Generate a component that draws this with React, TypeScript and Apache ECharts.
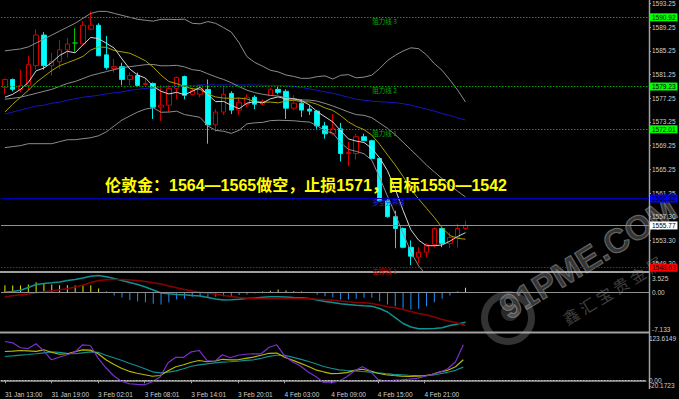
import React, { useEffect, useRef } from 'react';
import * as echarts from 'echarts';

const CATEGORIES = [
  '31 Jan 13:00','31 Jan 14:00','31 Jan 15:00','31 Jan 16:00','31 Jan 17:00','31 Jan 18:00','31 Jan 19:00','31 Jan 20:00','31 Jan 21:00','31 Jan 22:00',
  '31 Jan 23:00','3 Feb 01:01','3 Feb 02:01','3 Feb 03:01','3 Feb 04:01','3 Feb 05:01','3 Feb 06:01','3 Feb 07:01','3 Feb 08:01','3 Feb 09:01',
  '3 Feb 10:01','3 Feb 11:01','3 Feb 12:01','3 Feb 13:01','3 Feb 14:01','3 Feb 15:01','3 Feb 16:01','3 Feb 17:01','3 Feb 18:01','3 Feb 19:01',
  '3 Feb 20:01','3 Feb 21:01','3 Feb 22:01','3 Feb 23:01','4 Feb 01:00','4 Feb 02:00','4 Feb 03:00','4 Feb 04:00','4 Feb 05:00','4 Feb 06:00',
  '4 Feb 07:00','4 Feb 08:00','4 Feb 09:00','4 Feb 10:00','4 Feb 11:00','4 Feb 12:00','4 Feb 13:00','4 Feb 14:00','4 Feb 15:00','4 Feb 16:00',
  '4 Feb 17:00','4 Feb 18:00','4 Feb 19:00','4 Feb 20:00','4 Feb 21:00','4 Feb 22:00','4 Feb 23:00','5 Feb 01:00','5 Feb 02:00','5 Feb 03:00',
];

// [open, close, low, high]
const CANDLES = [
  [1579.08,1580.42,1577.92,1580.58],[1580.42,1578.75,1578.42,1580.58],[1578.75,1579.42,1578.25,1582.08],[1579.42,1582.92,1578.58,1584.42],
  [1582.75,1587.92,1582.08,1588.92],[1587.92,1582.75,1582.08,1588.42],[1582.75,1583.42,1581.08,1584.92],[1583.42,1585.42,1582.25,1587.08],
  [1585.42,1586.42,1584.08,1587.42],[1586.58,1586.58,1585.08,1589.08],[1586.42,1589.58,1586.25,1590.25],[1588.92,1589.58,1588.75,1591.92],
  [1589.58,1584.42,1584.42,1589.92],[1584.58,1582.42,1582.08,1587.75],[1582.25,1582.58,1581.58,1583.92],[1582.58,1580.42,1579.42,1583.25],
  [1580.42,1581.08,1579.42,1581.58],[1581.08,1579.42,1579.25,1581.58],[1579.58,1579.75,1579.42,1580.75],[1579.75,1575.75,1573.75,1579.92],
  [1575.75,1576.08,1573.42,1579.42],[1576.08,1578.92,1574.92,1579.42],[1578.92,1580.75,1577.08,1580.92],[1580.92,1577.75,1577.08,1581.08],
  [1577.92,1578.58,1577.75,1579.08],[1577.92,1579.42,1577.42,1579.58],[1578.75,1572.75,1569.58,1580.42],[1572.75,1574.92,1571.58,1575.42],
  [1574.92,1577.92,1574.42,1579.42],[1578.08,1575.25,1574.58,1578.42],[1575.25,1576.58,1574.42,1577.42],[1576.25,1577.42,1575.75,1577.92],
  [1577.42,1576.25,1575.42,1577.75],[1576.25,1576.75,1576.08,1577.08],[1577.75,1578.75,1577.75,1579.08],[1578.75,1578.25,1577.92,1579.42],
  [1578.42,1575.58,1573.75,1578.75],[1575.58,1576.42,1575.25,1577.75],[1576.42,1575.25,1574.08,1577.08],[1575.42,1575.08,1574.42,1576.08],
  [1575.08,1572.58,1572.08,1575.25],[1572.58,1571.25,1570.42,1573.25],[1571.25,1572.08,1571.08,1574.58],[1572.08,1567.92,1566.58,1573.08],
  [1567.92,1568.08,1565.75,1569.92],[1567.92,1570.75,1566.92,1571.25],[1570.75,1570.08,1570.08,1571.25],[1570.08,1567.08,1566.92,1570.25],
  [1567.08,1559.92,1559.92,1567.08],[1559.92,1557.25,1557.08,1560.25],[1557.25,1555.25,1551.92,1558.25],[1555.25,1552.08,1551.92,1555.42],
  [1552.08,1550.58,1549.08,1553.25],[1550.42,1551.25,1549.42,1552.08],[1551.25,1552.58,1550.42,1552.75],[1552.58,1555.25,1552.08,1555.42],
  [1555.25,1552.75,1552.08,1555.42],[1552.75,1553.75,1551.92,1554.58],[1553.75,1555.25,1552.08,1556.08],[1555.25,1555.77,1555.08,1556.58],
];

const MA5 = [
  1577.42,1577.92,1578.75,1579.92,1581.88,1582.35,1583.28,1584.48,1585.18,1584.92,
  1586.28,1587.52,1587.32,1586.52,1585.72,1583.88,1582.18,1581.18,1580.65,1579.28,
  1578.42,1577.98,1578.25,1577.85,1578.42,1579.08,1577.85,1576.68,1576.72,1576.05,
  1575.48,1576.42,1576.68,1576.45,1577.15,1577.48,1577.12,1577.15,1576.85,1576.12,
  1574.98,1574.12,1573.25,1571.78,1570.38,1570.02,1569.78,1568.78,1567.18,1565.02,
  1561.92,1558.32,1555.02,1553.28,1552.35,1552.35,1552.48,1553.12,1553.92,1554.55,
];
const MA10 = [
  1574.92,1576.25,1577.42,1578.58,1579.92,1580.92,1581.92,1582.75,1583.25,1583.75,
  1584.32,1585.40,1585.90,1585.85,1585.32,1585.08,1584.85,1584.25,1583.58,1582.50,
  1581.15,1580.08,1579.72,1579.25,1578.85,1578.75,1577.92,1577.47,1577.28,1577.23,
  1577.28,1577.13,1576.68,1576.58,1576.60,1576.48,1576.77,1576.92,1576.65,1576.63,
  1576.23,1575.62,1575.20,1574.32,1573.25,1572.50,1571.95,1571.02,1569.48,1567.70,
  1565.97,1564.05,1561.90,1560.23,1558.68,1557.13,1555.40,1554.07,1553.60,1553.45,
];
const MA20 = [
  1577.08,1577.25,1577.42,1577.75,1578.08,1578.42,1578.75,1579.25,1579.75,1580.08,
  1580.58,1581.08,1581.42,1581.75,1582.08,1582.42,1582.58,1582.75,1582.92,1582.95,
  1582.73,1582.74,1582.81,1582.55,1582.08,1581.92,1581.38,1580.86,1580.43,1579.87,
  1579.22,1578.61,1578.20,1577.92,1577.73,1577.62,1577.34,1577.19,1576.97,1576.93,
  1576.76,1576.38,1575.94,1575.45,1574.93,1574.49,1574.36,1573.97,1573.07,1572.17,
  1571.10,1569.83,1568.55,1567.28,1565.97,1564.82,1563.68,1562.54,1561.54,1560.58,
];
const BB_UPPER = [
  1585.25,1585.42,1585.58,1585.92,1586.58,1587.25,1587.92,1588.58,1589.25,1589.92,
  1590.75,1591.58,1591.92,1591.92,1591.58,1591.25,1590.92,1590.58,1590.42,1590.27,
  1590.58,1590.57,1590.55,1590.60,1589.90,1589.82,1590.20,1589.90,1589.18,1588.42,
  1586.60,1584.28,1583.30,1582.67,1581.98,1581.70,1581.18,1580.93,1580.60,1580.63,
  1580.90,1581.03,1580.50,1581.12,1581.24,1580.70,1580.82,1581.15,1582.28,1583.60,
  1584.50,1585.23,1585.77,1585.62,1584.58,1583.10,1581.97,1580.34,1578.61,1576.62,
];
const BB_LOWER = [
  1568.92,1569.08,1569.25,1569.58,1569.58,1569.58,1569.58,1569.92,1570.25,1570.25,
  1570.42,1570.58,1570.92,1571.58,1572.58,1573.58,1574.25,1574.92,1575.42,1575.63,
  1574.88,1574.92,1575.07,1574.50,1574.27,1574.02,1572.57,1571.82,1571.68,1571.32,
  1571.83,1572.93,1573.10,1573.17,1573.47,1573.53,1573.50,1573.45,1573.32,1573.23,
  1572.62,1571.72,1571.37,1569.78,1568.61,1568.28,1567.88,1566.77,1563.85,1560.73,
  1557.70,1554.43,1551.33,1548.93,1547.35,1546.53,1545.38,1544.74,1544.48,1544.53,
];
const MA_LONG = [
  1574.58,1574.92,1575.25,1575.58,1575.92,1576.08,1576.42,1576.58,1576.92,1577.17,
  1577.42,1577.58,1577.75,1578.00,1578.17,1578.33,1578.58,1578.75,1578.92,1579.00,
  1579.08,1579.17,1579.25,1579.33,1579.42,1579.50,1579.50,1579.50,1579.50,1579.50,
  1579.50,1579.50,1579.50,1579.42,1579.42,1579.42,1579.33,1579.25,1579.08,1578.83,
  1578.58,1578.33,1578.08,1577.75,1577.42,1577.08,1576.92,1576.75,1576.67,1576.58,
  1576.50,1576.33,1576.08,1575.75,1575.42,1575.08,1574.67,1574.33,1573.92,1573.58,
];

const MACD_HIST = [
  1.32,1.26,1.26,1.44,1.86,1.63,1.44,1.32,1.32,1.26,
  1.32,1.32,0.72,0.18,-0.54,-0.90,-1.39,-1.57,-1.75,-2.04,
  -2.17,-1.75,-1.26,-1.14,-0.78,-0.67,-0.96,-0.78,-0.67,-0.67,
  -0.45,-0.36,-0.18,0.18,0.31,0.54,0.36,0.23,0.18,-0.05,
  -0.42,-0.67,-0.85,-1.26,-1.26,-1.14,-0.96,-0.96,-1.57,-2.17,
  -2.47,-2.94,-3.07,-2.94,-2.47,-1.75,-1.14,-0.54,0.18,0.85,
];
const MACD_MAIN = [
  0.05,0.18,0.42,0.90,1.44,1.63,1.75,1.90,2.17,2.35,
  2.62,2.94,3.07,2.84,2.53,2.17,1.81,1.44,0.99,0.45,
  -0.09,-0.23,-0.36,-0.42,-0.54,-0.63,-0.90,-1.17,-1.35,-1.32,
  -1.21,-1.08,-0.99,-0.87,-0.78,-0.78,-0.81,-0.90,-0.96,-1.08,
  -1.35,-1.63,-1.81,-2.04,-2.17,-2.29,-2.40,-2.47,-2.89,-3.52,
  -4.52,-5.60,-6.23,-6.56,-6.56,-6.50,-6.38,-5.96,-5.69,-5.36,
];
const MACD_SIGNAL = [
  -0.78,-0.60,-0.42,-0.27,-0.05,0.13,0.31,0.49,0.67,0.99,
  1.35,1.81,2.17,2.29,2.35,2.35,2.26,2.17,1.99,1.75,
  1.54,1.17,0.85,0.54,0.27,0.05,-0.13,-0.31,-0.54,-0.72,
  -0.90,-1.03,-1.08,-1.08,-1.08,-1.08,-1.08,-1.08,-1.08,-1.14,
  -1.23,-1.32,-1.39,-1.54,-1.68,-1.81,-1.86,-1.99,-2.26,-2.56,
  -2.76,-3.07,-3.43,-3.79,-4.06,-4.42,-4.88,-5.18,-5.51,-5.96,
];

const KDJ_J = [
  101.4,98.0,85.0,82.9,95.4,77.1,53.6,60.1,66.7,73.2,
  92.8,91.0,58.0,32.7,11.8,-2.6,-9.1,-10.5,-11.8,-3.9,
  9.1,45.7,60.1,60.1,74.5,77.9,51.8,49.1,66.7,58.8,
  65.4,68.0,69.3,69.3,86.3,92.8,64.0,48.4,37.9,22.2,
  9.9,-5.8,-6.5,-2.6,9.1,24.8,35.3,24.8,2.6,-2.6,
  0,1.3,3.1,5.2,9.9,15.7,20.9,30.1,48.4,92.8,
];
const KDJ_K = [
  75.3,76.3,77.9,77.1,75.8,79.7,73.2,68.0,69.3,74.5,
  79.7,78.9,69.3,53.6,41.8,31.4,23.5,18.3,14.4,10.5,
  12.5,24.8,35.3,40.5,47.1,51.8,48.4,50.2,54.9,53.6,
  53.6,57.5,60.6,65.4,70.6,71.1,60.1,52.8,45.0,36.6,
  27.4,22.2,17.5,18.3,20.1,26.1,28.8,24.8,18.3,14.4,
  12.5,11.0,9.9,11.0,11.8,15.7,22.2,26.1,35.3,53.6,
];
const KDJ_D = [
  62.2,64.0,65.9,67.4,69.3,71.9,74.5,73.2,70.6,69.3,
  71.9,74.5,73.2,65.4,58.8,52.3,44.4,37.9,30.1,22.2,
  19.6,21.4,24.8,30.1,36.6,40.5,43.1,45.7,47.6,48.4,
  49.7,51.8,53.6,57.5,62.7,65.4,65.4,60.6,55.4,49.7,
  43.1,36.1,31.4,27.4,25.6,24.3,23.0,21.4,19.6,17.5,
  15.7,14.4,13.1,12.3,11.8,13.1,17.0,20.9,26.1,34.5,
];

const PRICE_TICKS = [1593.25,1589.25,1585.25,1581.25,1577.25,1573.25,1569.25,1565.25,1561.25,1557.30,1553.30,1549.30];
const MACD_TICKS = ['3.525', '0.00', '-7.133'];
const KDJ_TICKS = ['123.6149', '0.00', '-20.1723'];

const RESISTANCE = [1590.92, 1579.23, 1572.01];
const RESISTANCE_NAMES = ['阻力线 3', '阻力线 2', '阻力线 1'];
const PIVOT = 1560.32;
const PIVOT_NAME = '多空分界线';
const LAST_PRICE = 1555.77;
const SUPPORT = 1548.63;
const SUPPORT_NAME = '支撑线 1';
const HEADLINE = '伦敦金：1564—1565做空，止损1571，目标1550—1542';

const FONT = '"Liberation Sans", Arial, sans-serif';
const LABEL_COLOR = '#cfcfcf';
const SLOTS = 83;
const NAME_SLOT = 47;

export default function App() {
  const ref = useRef<HTMLDivElement>(null);
  useEffect(() => {
    const chart = echarts.init(ref.current!, null, { renderer: 'svg' });
    const xData = CATEGORIES.concat(new Array(SLOTS - CATEGORIES.length).fill(''));
    const showTick = (i: number, v: string) => v !== '' && i % 6 === 0;
    const xAxis = (gridIndex: number, show: boolean) => ({
      type: 'category', gridIndex, data: xData, boundaryGap: true,
      axisLine: { show, lineStyle: { color: '#a0a0a0', width: 1.5 } },
      axisTick: { show, interval: showTick, alignWithLabel: true, length: 3, lineStyle: { color: '#a0a0a0' } },
      axisLabel: { show, interval: showTick, align: 'left', margin: 3, color: LABEL_COLOR, fontSize: 6.5, fontFamily: FONT },
      splitLine: { show: false },
    });
    // labels of the min/max ticks sit inside the panel, like the terminal draws them
    const tickAxis = (gridIndex: number, ticks: string[], withZero: boolean) => {
      const vals = ticks.map(Number);
      const shown = withZero ? vals : [vals[0], vals[2]];
      return {
        type: 'value', gridIndex, position: 'right', min: vals[2], max: vals[0],
        axisLine: { show: false }, splitLine: { show: false },
        axisTick: { show: false },
        axisLabel: {
          customValues: shown, margin: 3, color: LABEL_COLOR, fontSize: 6.5, fontFamily: FONT,
          showMinLabel: true, showMaxLabel: true, hideOverlap: false,
          formatter: (v: number) => {
            const idx = vals.findIndex((t) => Math.abs(t - v) < 1e-6);
            const s = idx >= 0 ? ticks[idx] : String(v);
            if (idx === 0) return '{t|' + s + '}';
            if (idx === 2) return '{b|' + s + '}';
            return s;
          },
          rich: {
            t: { padding: [10, 0, 0, 0], color: LABEL_COLOR, fontSize: 6.5, fontFamily: FONT },
            b: { padding: [0, 0, 6, 0], color: LABEL_COLOR, fontSize: 6.5, fontFamily: FONT },
          },
        },
      };
    };
    const lvl = (value: number, color: string, type: any, bg: string, fg: string) => ({
      yAxis: value,
      lineStyle: { color, type, width: 1 },
      label: { show: true, position: 'end', distance: 1, formatter: value.toFixed(2), backgroundColor: bg, color: fg, padding: [1, 2, 0, 2], fontSize: 6.5, fontFamily: FONT },
    });
    const nameMark = (value: number, text: string, color: string) => ({
      coord: [NAME_SLOT, value], symbol: 'rect', symbolSize: 1, itemStyle: { color: 'rgba(0,0,0,0)' },
      label: { show: true, formatter: text, position: [1, 1], align: 'left', verticalAlign: 'top', color, fontSize: 6.5, fontFamily: '"Noto Sans CJK SC", sans-serif' },
    });
    const line = (data: number[], color: string, xi = 0, width = 1) => ({
      type: 'line', xAxisIndex: xi, yAxisIndex: xi, data, showSymbol: false, symbol: 'none', silent: true,
      lineStyle: { color, width }, z: 3,
    });
    const dotted = [1.5, 1.5];
    chart.setOption({
      animation: false,
      backgroundColor: '#000000',
      grid: [
        { left: 1, right: 30, top: 0, height: 271 },
        { left: 1, right: 30, top: 273, height: 59 },
        { left: 1, right: 30, top: 333, height: 55 },
      ],
      xAxis: [xAxis(0, false), xAxis(1, false), xAxis(2, true)],
      yAxis: [
        {
          type: 'value', gridIndex: 0, position: 'right', min: 1548.08, max: 1593.25,
          axisLine: { show: false }, splitLine: { show: false },
          axisTick: { show: true, length: 2, customValues: PRICE_TICKS, lineStyle: { color: '#a0a0a0' } },
          axisLabel: { customValues: PRICE_TICKS, formatter: (v: number) => v.toFixed(2), margin: 3, color: LABEL_COLOR, fontSize: 6.5, fontFamily: FONT },
        },
        tickAxis(1, MACD_TICKS, true),
        tickAxis(2, KDJ_TICKS, false),
      ],
      series: [
        {
          type: 'candlestick', xAxisIndex: 0, yAxisIndex: 0, data: CANDLES, barWidth: 5, silent: true,
          itemStyle: { color: '#000000', color0: '#00ffff', borderColor: '#d00000', borderColor0: '#00e8e8', borderColorDoji: '#00c000', borderWidth: 1 },
          markLine: {
            silent: true, symbol: ['none', 'none'],
            data: [
              ...RESISTANCE.map((v) => lvl(v, '#00a000', dotted, '#00ff00', '#000000')),
              lvl(PIVOT, '#0000b8', 'solid', '#0000ff', '#000000'),
              lvl(LAST_PRICE, '#909090', 'solid', '#ffffff', '#000000'),
              lvl(SUPPORT, '#d00000', dotted, '#ff0000', '#000000'),
            ],
          },
          markPoint: {
            silent: true,
            data: [
              ...RESISTANCE.map((v, i) => nameMark(v, RESISTANCE_NAMES[i], '#00b000')),
              nameMark(PIVOT, PIVOT_NAME, '#2020ff'),
              nameMark(SUPPORT, SUPPORT_NAME, '#d00000'),
            ],
          },
        },
        line(MA_LONG, '#1515c0'),
        line(BB_UPPER, '#8c8c8c'),
        line(MA20, '#8c8c8c'),
        line(BB_LOWER, '#8c8c8c'),
        line(MA10, '#a8a000'),
        line(MA5, '#d4d4d4'),
        {
          type: 'bar', xAxisIndex: 1, yAxisIndex: 1, data: MACD_HIST, barWidth: 1, silent: true,
          itemStyle: { color: (p: any) => (p.value >= 0 ? '#e6e600' : '#1e90ff') },
          markLine: { silent: true, symbol: ['none', 'none'], label: { show: false }, lineStyle: { color: '#909090', type: 'solid', width: 1 }, data: [{ yAxis: 0 }] },
        },
        line(MACD_MAIN, '#109090', 1, 1.5),
        line(MACD_SIGNAL, '#8b0000', 1, 1.5),
        {
          ...line(KDJ_D, '#109090', 2, 1.2),
          markLine: {
            silent: true, symbol: ['none', 'none'],
            label: { show: true, position: 'end', distance: 3, formatter: KDJ_TICKS[1], color: LABEL_COLOR, fontSize: 6.5, fontFamily: FONT },
            lineStyle: { color: '#c0c0c0', type: dotted, width: 1 },
            data: [{ yAxis: Number(KDJ_TICKS[1]) }],
          },
        },
        line(KDJ_K, '#b8b800', 2, 1.2),
        line(KDJ_J, '#7a2fd0', 2, 1.2),
      ],
      graphic: [
        { type: 'line', silent: true, shape: { x1: 0, y1: 272, x2: 649, y2: 272 }, style: { stroke: '#a0a0a0', lineWidth: 2 } },
        { type: 'line', silent: true, shape: { x1: 0, y1: 332.5, x2: 649, y2: 332.5 }, style: { stroke: '#a0a0a0', lineWidth: 2 } },
        { type: 'line', silent: true, shape: { x1: 649.5, y1: 0, x2: 649.5, y2: 389 }, style: { stroke: '#a0a0a0', lineWidth: 1.5 } },
        {
          type: 'text', left: 105, top: 177, silent: true, z: 50,
          style: { text: HEADLINE, fill: '#ffff00', fontSize: 16, fontWeight: 'bold', fontFamily: '"Liberation Sans", "Noto Sans CJK SC", sans-serif' },
        },
        {
          type: 'group', x: 588, y: 258, rotation: 0.55, silent: true, z: 60,
          children: [
            { type: 'text', style: { text: '91PME.COM', x: 0, y: 0, align: 'center', verticalAlign: 'middle', fontSize: 34, fontWeight: 'bold', fontFamily: FONT, fill: 'rgba(170,170,170,0.32)', stroke: 'rgba(225,225,225,0.4)', lineWidth: 1 } },
            { type: 'text', style: { text: '鑫 汇 宝 贵 金 属', x: 4, y: 40, align: 'center', verticalAlign: 'middle', fontSize: 16, fontFamily: '"Noto Sans CJK SC", sans-serif', fill: 'rgba(170,170,170,0.38)' } },
          ],
        },
        { type: 'ring', silent: true, z: 60, shape: { cx: 508, cy: 318, r: 27, r0: 20 }, style: { fill: 'rgba(170,170,170,0.3)' } },
        { type: 'circle', silent: true, z: 60, shape: { cx: 510, cy: 312, r: 9 }, style: { fill: 'rgba(170,170,170,0.24)' } },
      ],
    });
    return () => chart.dispose();
  }, []);
  return <div ref={ref} style={{ position: 'fixed', left: 0, top: 0, width: 679, height: 399, background: '#000' }} />;
}
